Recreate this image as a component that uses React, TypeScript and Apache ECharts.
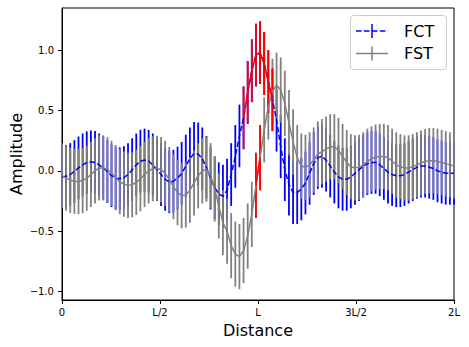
import React, { useEffect, useRef } from "react";
import * as echarts from "echarts";

// Sampled amplitudes on a uniform grid over [0, 2L] (L = 1)
const FCT = [
  -0.05, -0.045, -0.03, -0.005, 0.025, 0.05, 0.068, 0.075, 0.07, 0.05,
  0.025, -0.005, -0.04, -0.06, -0.065, -0.055, -0.03, 0.01, 0.05, 0.08,
  0.09, 0.08, 0.05, 0.01, -0.03, -0.07, -0.09, -0.085, -0.06, -0.02,
  0.04, 0.1, 0.145, 0.14, 0.1, 0.03, -0.06, -0.14, -0.19, -0.21,
  -0.16, -0.03, 0.12, 0.29, 0.44, 0.65, 0.83, 0.96, 0.98, 0.89,
  0.74, 0.59, 0.42, 0.2, 0.01, -0.11, -0.18, -0.18, -0.15, -0.1,
  -0.02, 0.06, 0.11, 0.12, 0.09, 0.04, -0.01, -0.05, -0.07, -0.07,
  -0.05, -0.02, 0.01, 0.04, 0.06, 0.07, 0.07, 0.05, 0.02, -0.01,
  -0.03, -0.04, -0.04, -0.03, -0.01, 0.01, 0.03, 0.04, 0.04, 0.03,
  0.02, 0.0, -0.01, -0.02, -0.02, -0.02,
];

const FST = [
  -0.04, -0.06, -0.077, -0.086, -0.088, -0.08, -0.06, -0.03, 0.0, 0.025,
  0.025, 0.01, -0.02, -0.055, -0.09, -0.11, -0.12, -0.115, -0.095, -0.065,
  -0.03, 0.0, 0.018, 0.022, 0.01, -0.02, -0.07, -0.13, -0.18, -0.205,
  -0.2, -0.16, -0.1, -0.04, 0.0, 0.014, -0.04, -0.15, -0.29, -0.43,
  -0.5, -0.62, -0.69, -0.71, -0.66, -0.54, -0.36, -0.12, 0.11, 0.34,
  0.53, 0.66, 0.71, 0.67, 0.56, 0.4, 0.24, 0.11, 0.04, 0.03,
  0.05, 0.09, 0.14, 0.16, 0.18, 0.2, 0.2, 0.17, 0.12, 0.07,
  0.035, 0.025, 0.03, 0.05, 0.08, 0.1, 0.115, 0.12, 0.12, 0.11,
  0.08, 0.05, 0.035, 0.025, 0.025, 0.035, 0.05, 0.065, 0.078, 0.085,
  0.085, 0.08, 0.07, 0.06, 0.05, 0.04,
];

const FCT_ERR = 0.26;
const FST_ERR = 0.27;

// highlighted (red) sample index ranges [start, end)
const FCT_RED = [44, 52];
const FST_RED = [47, 49];

const X_TICKS = [0, 0.5, 1, 1.5, 2];
const X_TICK_LABELS = ["0", "L/2", "L", "3L/2", "2L"];
const Y_TICKS = [-1, -0.5, 0, 0.5, 1];
const Y_TICK_LABELS = ["\u22121.0", "\u22120.5", "0.0", "0.5", "1.0"];

const FONT = "DejaVu Sans";

export default function App() {
  const ref = useRef<HTMLDivElement>(null);

  useEffect(() => {
    if (!ref.current) return;
    const chart = echarts.init(ref.current, undefined, { renderer: "svg" });

    const n = FCT.length;
    const dist = FCT.map((_, i) => (2 * i) / (n - 1));

    const linePts = (vals: number[], a = 0, b = n) =>
      vals.slice(a, b).map((v, k) => [dist[a + k], v]);
    const errPts = (vals: number[], e: number, a = 0, b = n) =>
      vals.slice(a, b).map((v, k) => [dist[a + k], v - e, v + e]);

    const errSeries = (data: number[][], color: string) => ({
      type: "custom",
      data,
      encode: { x: 0, y: [1, 2] },
      silent: true,
      renderItem: (_p: any, api: any) => {
        const x = api.value(0);
        const p1 = api.coord([x, api.value(1)]);
        const p2 = api.coord([x, api.value(2)]);
        return {
          type: "line",
          shape: { x1: p1[0], y1: p1[1], x2: p2[0], y2: p2[1] },
          style: { stroke: color, lineWidth: 1.8 },
        };
      },
    });

    const lineSeries = (data: number[][], color: string, dashed: boolean) => ({
      type: "line",
      data,
      showSymbol: false,
      symbol: "none",
      silent: true,
      lineStyle: {
        color,
        width: 1.5,
        type: dashed ? [5.55, 2.4] : "solid",
      },
    });

    const xLabelMap: Record<string, string> = {};
    X_TICKS.forEach((t, i) => (xLabelMap[String(t)] = X_TICK_LABELS[i]));
    const yLabelMap: Record<string, string> = {};
    Y_TICKS.forEach((t, i) => (yLabelMap[String(t)] = Y_TICK_LABELS[i]));

    chart.setOption({
      animation: false,
      backgroundColor: "#ffffff",
      grid: {
        left: 62,
        top: 8,
        right: 15,
        bottom: 47,
        show: true,
        borderColor: "#000",
        borderWidth: 1,
        backgroundColor: "transparent",
      },
      xAxis: {
        type: "value",
        min: 0,
        max: 2,
        interval: 0.5,
        axisLine: { show: true, onZero: false, lineStyle: { color: "#000", width: 1 } },
        axisTick: { show: true, length: 4, lineStyle: { color: "#000", width: 1 } },
        splitLine: { show: false },
        axisLabel: {
          color: "#000",
          fontFamily: FONT,
          fontSize: 10,
          margin: 7,
          formatter: (v: number) => xLabelMap[String(v)] ?? "",
        },
      },
      yAxis: {
        type: "value",
        min: -1.07,
        max: 1.35,
        axisLine: { show: true, onZero: false, lineStyle: { color: "#000", width: 1 } },
        axisTick: {
          show: true,
          length: 4,
          customValues: Y_TICKS,
          lineStyle: { color: "#000", width: 1 },
        },
        splitLine: { show: false },
        axisLabel: {
          color: "#000",
          fontFamily: FONT,
          fontSize: 10,
          margin: 8,
          customValues: Y_TICKS,
          formatter: (v: number) => yLabelMap[String(v)] ?? "",
        },
      },
      series: [
        errSeries(errPts(FCT, FCT_ERR), "#0000ff"),
        errSeries(errPts(FST, FST_ERR), "#808080"),
        errSeries(errPts(FCT, FCT_ERR, FCT_RED[0], FCT_RED[1]), "#ff0000"),
        errSeries(errPts(FST, FST_ERR, FST_RED[0], FST_RED[1]), "#ff0000"),
        lineSeries(linePts(FCT), "#0000ff", true),
        lineSeries(linePts(FST), "#808080", false),
        lineSeries(linePts(FCT, FCT_RED[0], FCT_RED[1]), "#ff0000", false),
        lineSeries(linePts(FST, FST_RED[0], FST_RED[1]), "#ff0000", false),
      ],
      graphic: [
        {
          type: "text",
          x: 16,
          y: 154,
          rotation: Math.PI / 2,
          style: {
            text: "Amplitude",
            font: `16px '${FONT}'`,
            fill: "#000",
            align: "center",
            verticalAlign: "middle",
          },
        },
        {
          type: "text",
          x: 258,
          y: 330,
          style: {
            text: "Distance",
            font: `16px '${FONT}'`,
            fill: "#000",
            align: "center",
            verticalAlign: "middle",
          },
        },
        {
          type: "rect",
          shape: { x: 350.5, y: 15.5, width: 96, height: 54, r: 3 },
          style: { fill: "rgba(255,255,255,0.8)", stroke: "#cccccc", lineWidth: 1 },
          z: 100,
        },
        {
          type: "line",
          shape: { x1: 356, y1: 31, x2: 388, y2: 31 },
          style: { stroke: "#0000ff", lineWidth: 1.5, lineDash: [5.55, 2.4] },
          z: 101,
        },
        {
          type: "line",
          shape: { x1: 372, y1: 24, x2: 372, y2: 38 },
          style: { stroke: "#0000ff", lineWidth: 1.5 },
          z: 101,
        },
        {
          type: "line",
          shape: { x1: 356, y1: 53.5, x2: 388, y2: 53.5 },
          style: { stroke: "#808080", lineWidth: 1.5 },
          z: 101,
        },
        {
          type: "line",
          shape: { x1: 372, y1: 46.5, x2: 372, y2: 60.5 },
          style: { stroke: "#808080", lineWidth: 1.5 },
          z: 101,
        },
        {
          type: "text",
          x: 404,
          y: 31,
          style: {
            text: "FCT",
            font: `16px '${FONT}'`,
            fill: "#000",
            verticalAlign: "middle",
          },
          z: 101,
        },
        {
          type: "text",
          x: 404,
          y: 53.5,
          style: {
            text: "FST",
            font: `16px '${FONT}'`,
            fill: "#000",
            verticalAlign: "middle",
          },
          z: 101,
        },
      ],
    });

    return () => chart.dispose();
  }, []);

  return (
    <div
      ref={ref}
      style={{ position: "fixed", left: 0, top: 0, width: 469, height: 347 }}
    />
  );
}
